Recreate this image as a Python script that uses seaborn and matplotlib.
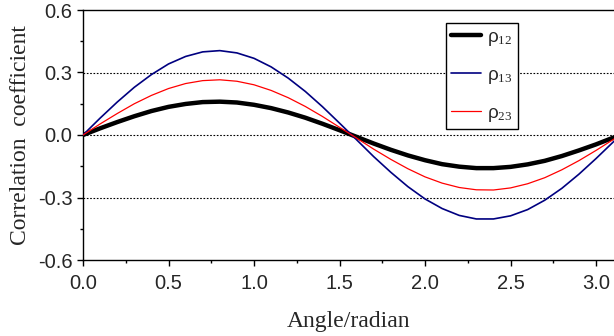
import matplotlib
matplotlib.use("Agg")
import matplotlib.pyplot as plt
from matplotlib.ticker import MultipleLocator
import pandas as pd
import seaborn as sns

# angle (rad) and correlation coefficients
angle = [0.0, 0.1, 0.2, 0.3, 0.4, 0.5, 0.6, 0.7, 0.8, 0.9, 1.0, 1.1, 1.2, 1.3, 1.4, 1.5,
         1.6, 1.7, 1.8, 1.9, 2.0, 2.1, 2.2, 2.3, 2.4, 2.5, 2.6, 2.7, 2.8, 2.9, 3.0, 3.1, 3.1416]
rho12 = [0.0, 0.032, 0.062, 0.090, 0.115, 0.135, 0.149, 0.158, 0.160, 0.156, 0.145, 0.129,
         0.108, 0.083, 0.054, 0.023, -0.009, -0.041, -0.071, -0.098, -0.121, -0.140, -0.152,
         -0.159, -0.159, -0.153, -0.141, -0.124, -0.101, -0.074, -0.045, -0.013, 0.0]
rho13 = [0.0, 0.081, 0.158, 0.229, 0.290, 0.341, 0.377, 0.399, 0.405, 0.394, 0.368, 0.327,
         0.273, 0.209, 0.136, 0.057, -0.023, -0.104, -0.179, -0.248, -0.307, -0.353, -0.386,
         -0.403, -0.403, -0.388, -0.358, -0.313, -0.256, -0.188, -0.113, -0.034, 0.0]
rho23 = [0.0, 0.053, 0.103, 0.150, 0.190, 0.223, 0.247, 0.261, 0.265, 0.258, 0.241, 0.214,
         0.179, 0.137, 0.089, 0.037, -0.015, -0.068, -0.117, -0.162, -0.201, -0.231, -0.252,
         -0.263, -0.264, -0.254, -0.234, -0.205, -0.167, -0.123, -0.074, -0.022, 0.0]
labels = ["ρ$_{12}$", "ρ$_{13}$", "ρ$_{23}$"]
grid_levels = [0.3, 0.0, -0.3]

sns.set_style("ticks")
plt.rcParams["font.family"] = ["Liberation Sans", "DejaVu Sans"]
plt.rcParams["mathtext.fontset"] = "custom"
plt.rcParams["mathtext.rm"] = "Liberation Serif"
plt.rcParams["mathtext.default"] = "rm"

df = pd.DataFrame({"angle": angle, "r12": rho12, "r13": rho13, "r23": rho23})

fig = plt.figure(figsize=(6.14, 3.36), dpi=100)
ax = fig.add_axes([83 / 614, 1 - 260 / 336, 1 - 83 / 614, 250 / 336])

for lev in grid_levels:
    ax.axhline(lev, color="black", ls=(0, (1.5, 1.5)), lw=0.8, zorder=1)

sns.lineplot(data=df, x="angle", y="r12", color="black", lw=3.2, label=labels[0], ax=ax, zorder=3)
sns.lineplot(data=df, x="angle", y="r13", color="#000080", lw=1.2, label=labels[1], ax=ax, zorder=3)
sns.lineplot(data=df, x="angle", y="r23", color="#ff0000", lw=0.9, label=labels[2], ax=ax, zorder=3)

ax.set_xlim(0, 3.105)
ax.set_ylim(-0.6, 0.6)
ax.xaxis.set_major_locator(MultipleLocator(0.5))
ax.xaxis.set_minor_locator(MultipleLocator(0.25))
ax.yaxis.set_major_locator(MultipleLocator(0.3))
ax.yaxis.set_minor_locator(MultipleLocator(0.15))
ax.tick_params(which="major", direction="out", length=4, width=1, labelsize=14.5, color="black")
ax.tick_params(axis="x", which="major", pad=6)
ax.tick_params(which="minor", direction="out", length=2.5, width=1, color="black")
ax.set_xticklabels([f"{v:.1f}" for v in ax.get_xticks()])
ax.set_yticklabels([f"{v:.1f}" for v in ax.get_yticks()])

for s in ["left", "bottom", "top"]:
    ax.spines[s].set_linewidth(1)
    ax.spines[s].set_color("black")
ax.spines["right"].set_visible(False)

ax.set_xlabel("Angle/radian", family="Liberation Serif", fontsize=17, labelpad=13)
ax.set_ylabel("Correlation  coefficient", family="Liberation Serif", fontsize=17, labelpad=5)

leg = ax.legend(loc="upper left", bbox_to_anchor=(0.683, 0.947), borderaxespad=0,
                fancybox=False, framealpha=1, edgecolor="black", fontsize=13.5,
                handlelength=1.6, labelspacing=1.0, borderpad=0.3, handletextpad=0.3)
leg.get_frame().set_linewidth(1)
leg.set_zorder(5)

fig.savefig("out.png", dpi=100)
